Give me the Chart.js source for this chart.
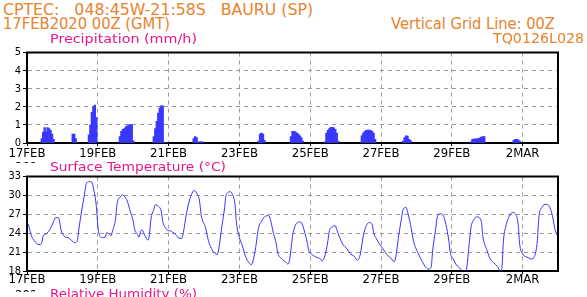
<!DOCTYPE html>
<html>
<head>
<meta charset="utf-8">
<script src="https://cdn.jsdelivr.net/npm/chart.js@4/dist/chart.umd.min.js"></script>
<style>
  body { margin: 0; background: #fff; width: 587px; height: 297px; overflow: hidden; position: relative; }
  canvas { position: absolute; left: 0; }
  .t { position: absolute; white-space: pre; line-height: 1; font-family: 'DejaVu Sans', sans-serif; transform-origin: 0 0; z-index: 2; }
  .orange { color: #e8822c; }
  .pink { color: #e8168c; }
  .year { position: absolute; overflow: hidden; z-index: 2; }
  .year span { position: absolute; left: 0; font: 13px 'Liberation Sans Narrow', 'DejaVu Sans Condensed', 'Liberation Sans', sans-serif; color: #000; }
</style>
</head>
<body>
<canvas id="precipChart" width="587" height="116" style="top:44px"></canvas>
<canvas id="tempChart" width="587" height="122" style="top:168px"></canvas>

<div class="t orange" data-w="310" style="left:3px;top:2px;font-size:16px">CPTEC:   048:45W-21:58S   BAURU (SP)</div>
<div class="t orange" data-w="167" style="left:3px;top:16.5px;font-size:15px">17FEB2020 00Z (GMT)</div>
<div class="t orange" data-w="164" style="left:391px;top:16.5px;font-size:15px">Vertical Grid Line: 00Z</div>
<div class="t orange" data-w="91" style="left:493px;top:31px;font-size:14.5px">TQ0126L028</div>
<div class="t pink" data-w="147" style="left:50px;top:31.7px;font-size:13px">Precipitation (mm/h)</div>
<div class="t pink" data-w="176" style="left:50px;top:160px;font-size:13px">Surface Temperature (°C)</div>
<div class="t pink" data-w="147" style="left:50px;top:286.7px;font-size:13px">Relative Humidity (%)</div>
<div class="year" style="left:15px;top:159px;width:20px;height:4px"><span>2020</span></div>
<div class="year" style="left:15px;top:287px;width:20px;height:5px"><span>2020</span></div>

<script>
// Hours counted from 17FEB2020 00Z
const xTickHours = [0, 48, 96, 144, 192, 240, 288, 336];
const xTickLabels = ['17FEB', '19FEB', '21FEB', '23FEB', '25FEB', '27FEB', '29FEB', '2MAR'];

// Precipitation (mm/h), only the hours with rain
const precipHours = [
    10, 11, 12, 13, 14, 15, 16, 17, 18,
    31, 32, 33,
    42, 43, 44, 45, 46, 47,
    63, 64, 65, 66, 67, 68, 69, 70, 71, 72,
    86, 87, 88, 89, 90, 91, 92, 93, 94, 95,
    113, 114, 115, 116, 117, 118, 119,
    157, 158, 159, 160, 161,
    179, 180, 181, 182, 183, 184, 185, 186, 187,
    202, 203, 204, 205, 206, 207, 208, 209, 210, 211,
    227, 228, 229, 230, 231, 232, 233, 234, 235, 236,
    255, 256, 257, 258, 259, 260,
    301, 302, 303, 304, 305, 306, 307, 308, 309, 310,
    330, 331, 332, 333, 334
];
const precipValues = [
    0.25, 0.6, 0.85, 0.6, 0.85, 0.8, 0.7, 0.5, 0.2,
    0.5, 0.5, 0.25,
    0.45, 1.0, 1.7, 2.0, 2.1, 1.4,
    0.35, 0.65, 0.75, 0.8, 0.9, 0.95, 1.0, 1.02, 1.02, 0.12,
    0.35, 0.8, 1.2, 1.65, 1.95, 2.05, 2.05, 0.03, 0.03, 0.03,
    0.25, 0.35, 0.3, 0.05, 0.07, 0.07, 0.07,
    0.1, 0.5, 0.55, 0.5, 0.15,
    0.35, 0.65, 0.65, 0.62, 0.55, 0.5, 0.4, 0.3, 0.1,
    0.07, 0.55, 0.7, 0.8, 0.87, 0.87, 0.84, 0.75, 0.55, 0.1,
    0.4, 0.55, 0.65, 0.7, 0.72, 0.72, 0.7, 0.65, 0.55, 0.2,
    0.1, 0.3, 0.4, 0.38, 0.2, 0.15,
    0.07, 0.2, 0.22, 0.23, 0.23, 0.25, 0.28, 0.33, 0.35, 0.35,
    0.15, 0.2, 0.2, 0.18, 0.1
];

// Surface temperature (C)
const tempHours = [
    0, 1, 3, 5, 8, 9, 10, 11, 13, 16, 18, 19, 21, 22, 23, 25, 26, 28, 30, 32,
    34, 35, 37, 39, 40, 42, 44, 45, 47, 48, 49, 51, 53, 54, 56, 57, 58, 60, 61, 63,
    65, 66, 68, 70, 72, 73, 75, 76, 77, 78, 80, 82, 83, 84, 86, 87, 89, 91, 92, 94,
    96, 97, 99, 101, 103, 105, 106, 108, 110, 112, 113, 115, 117, 118, 121, 123, 125, 127, 129, 130,
    132, 134, 135, 138, 139, 141, 142, 144, 146, 148, 150, 152, 153, 155, 157, 159, 161, 164, 165, 167,
    169, 170, 173, 175, 177, 178, 179, 180, 182, 185, 186, 188, 190, 191, 194, 196, 199, 200, 202, 204,
    205, 207, 209, 210, 212, 214, 217, 219, 222, 224, 226, 228, 230, 232, 234, 235, 237, 239, 242, 244,
    246, 249, 250, 252, 254, 255, 257, 258, 260, 262, 265, 268, 270, 272, 274, 275, 277, 278, 280, 282,
    284, 286, 287, 289, 291, 294, 295, 297, 298, 300, 301, 303, 305, 308, 309, 312, 314, 316, 319, 321,
    322, 323, 325, 327, 329, 331, 333, 334, 336, 338, 340, 342, 344, 346, 347, 349, 352, 354, 356, 358,
    359, 360
];
const tempValues = [
    25.7, 25.3, 23.6, 22.8, 22.2, 22.2, 22.5, 23.6, 23.9, 24.8, 25.8, 26.4, 26.5, 26.0, 24.6, 23.6, 23.4, 23.3, 22.9, 22.5,
    22.7, 24.4, 27.5, 30.2, 31.7, 32.2, 32.1, 31.2, 28.3, 25.2, 23.8, 23.3, 23.4, 24.1, 23.8, 23.6, 24.4, 26.2, 28.6, 29.7,
    30.1, 29.9, 29.1, 27.5, 25.9, 24.6, 23.8, 23.4, 24.3, 24.5, 23.6, 22.9, 23.8, 26.2, 27.8, 28.5, 28.3, 27.5, 25.9, 24.8,
    24.4, 24.4, 24.1, 23.8, 23.2, 23.2, 24.1, 27.0, 29.1, 30.4, 30.8, 30.4, 29.1, 27.0, 24.9, 22.8, 21.6, 20.9, 20.6, 21.5,
    24.9, 28.1, 30.1, 30.6, 30.3, 28.6, 25.7, 23.3, 22.0, 20.4, 19.5, 19.0, 19.4, 21.7, 24.9, 25.9, 26.6, 26.8, 26.2, 24.1,
    22.3, 20.9, 19.9, 19.5, 19.1, 19.7, 21.5, 23.5, 25.3, 25.8, 25.7, 24.4, 22.5, 21.3, 20.5, 20.2, 19.9, 19.6, 20.4, 22.8,
    24.4, 25.0, 25.2, 24.6, 23.3, 22.3, 21.5, 20.8, 20.3, 19.7, 20.7, 23.6, 25.2, 25.7, 25.4, 24.1, 23.1, 22.3, 21.3, 20.6,
    20.2, 19.5, 20.2, 23.6, 26.5, 27.8, 28.1, 27.4, 25.4, 22.8, 20.9, 19.5, 18.7, 18.3, 18.6, 21.2, 24.6, 26.4, 27.1, 26.9,
    25.4, 22.8, 20.9, 19.9, 19.0, 18.3, 17.9, 17.8, 18.3, 22.8, 24.9, 26.2, 26.6, 25.9, 23.6, 21.2, 19.9, 19.4, 18.7, 18.0,
    18.6, 22.8, 25.4, 26.7, 27.3, 27.1, 25.4, 22.3, 20.7, 20.3, 20.1, 19.9, 20.3, 22.8, 26.5, 28.1, 28.6, 28.3, 27.0, 24.6,
    23.9, 23.5
];

const tickFont = "'Liberation Sans Narrow', 'DejaVu Sans Condensed', 'Liberation Sans', sans-serif";

// Draw the top and right frame lines
const framePlugin = {
    id: 'frame',
    afterDraw(chart) {
        const a = chart.chartArea;
        const ctx = chart.ctx;
        ctx.save();
        ctx.strokeStyle = '#000';
        ctx.lineWidth = 2;
        ctx.beginPath();
        ctx.moveTo(a.left - 1, a.top);
        ctx.lineTo(a.right, a.top);
        ctx.lineTo(a.right, a.bottom + 1);
        ctx.stroke();
        ctx.restore();
    }
};

function xScale(axisHeight, pad) {
    return {
        type: 'linear',
        min: 0,
        max: 360,
        offset: false,
        afterBuildTicks: s => { s.ticks = xTickHours.map(v => ({ value: v })); },
        afterFit: s => { s.height = axisHeight; },
        ticks: {
            autoSkip: false,
            maxRotation: 0,
            padding: pad,
            color: '#000',
            font: { family: tickFont, size: 13 },
            callback: (v, i) => xTickLabels[i]
        },
        grid: { offset: false, color: '#9a9a9a', lineWidth: 1, tickLength: 3, tickColor: '#000' },
        border: { display: true, color: '#000', width: 2, dash: [4, 4] }
    };
}

function yScale(min, max, step) {
    return {
        min: min,
        max: max,
        afterFit: s => { s.width = 27; },
        ticks: {
            stepSize: step,
            padding: 2,
            color: '#000',
            font: { family: tickFont, size: 11 }
        },
        grid: { color: '#9a9a9a', lineWidth: 1, tickLength: 4, tickColor: '#000' },
        border: { display: true, color: '#000', width: 2, dash: [4, 4] }
    };
}

new Chart(document.getElementById('precipChart'), {
    type: 'bar',
    data: {
        datasets: [{
            data: precipHours.map((h, i) => ({ x: h, y: precipValues[i] })),
            backgroundColor: '#3838ff',
            borderWidth: 0,
            barThickness: 1.7
        }]
    },
    options: {
        responsive: false,
        animation: false,
        devicePixelRatio: 1,
        layout: { padding: { top: 5, right: 29, left: 0, bottom: 0 } },
        plugins: { legend: { display: false }, tooltip: { enabled: false } },
        scales: { x: xScale(17, 0), y: yScale(0, 5, 1) }
    },
    plugins: [framePlugin]
});

new Chart(document.getElementById('tempChart'), {
    type: 'line',
    data: {
        datasets: [{
            data: tempHours.map((h, i) => ({ x: h, y: tempValues[i] })),
            borderColor: '#3434ff',
            borderWidth: 1,
            pointRadius: 0,
            cubicInterpolationMode: 'monotone',
            fill: false
        }]
    },
    options: {
        responsive: false,
        animation: false,
        devicePixelRatio: 1,
        layout: { padding: { top: 8, right: 29, left: 0, bottom: 0 } },
        plugins: { legend: { display: false }, tooltip: { enabled: false } },
        scales: { x: xScale(19, -2), y: yScale(18, 33, 3) }
    },
    plugins: [framePlugin]
});

// Stretch header texts to the widths they have in the picture
document.querySelectorAll('.t').forEach(el => {
    const w = el.getBoundingClientRect().width;
    const target = parseFloat(el.dataset.w);
    if (w > 0) el.style.transform = 'scaleX(' + (target / w).toFixed(3) + ')';
});
</script>
</body>
</html>
